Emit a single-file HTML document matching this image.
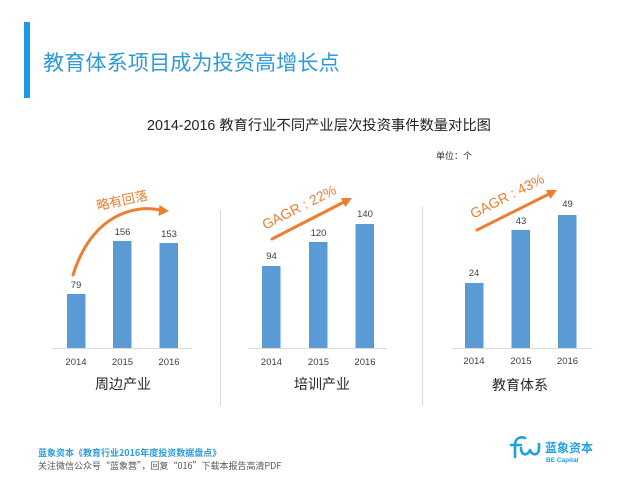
<!DOCTYPE html>
<html>
<head>
<meta charset="utf-8">
<style>
  html,body{margin:0;padding:0;background:#fff;}
  body{width:640px;height:480px;overflow:hidden;}
  svg{display:block;}
  text{font-family:"Liberation Sans","Noto Sans CJK SC",sans-serif;}
  .cjk{font-family:"Noto Sans CJK SC","WenQuanYi Zen Hei",sans-serif;}
</style>
</head>
<body>
<svg width="640" height="480" viewBox="0 0 640 480" xmlns="http://www.w3.org/2000/svg">
  <rect x="0" y="0" width="640" height="480" fill="#ffffff"/>
  <!-- accent bar -->
  <rect x="24" y="22" width="6" height="76" fill="#1f9ae0"/>
  <!-- main title -->
  <text x="43" y="70" class="cjk" font-size="21.2" fill="#2e9ad8">教育体系项目成为投资高增长点</text>

  <!-- chart title -->
  <text x="147" y="130" font-size="14.3" fill="#222"><tspan font-family="Liberation Sans, sans-serif">2014-2016 </tspan><tspan class="cjk" font-family="Noto Sans CJK SC, sans-serif">教育行业不同产业层次投资事件数量对比图</tspan></text>
  <text x="436" y="159" class="cjk" font-size="9" fill="#333">单位：个</text>

  <!-- dividers -->
  <line x1="220.5" y1="210" x2="220.5" y2="405" stroke="#d9d9d9" stroke-width="1"/>
  <line x1="422.5" y1="207" x2="422.5" y2="405" stroke="#d9d9d9" stroke-width="1"/>

  <!-- axes -->
  <line x1="52" y1="348.5" x2="192" y2="348.5" stroke="#d9d9d9" stroke-width="1"/>
  <line x1="248" y1="348.5" x2="387" y2="348.5" stroke="#d9d9d9" stroke-width="1"/>
  <line x1="452" y1="348.5" x2="592" y2="348.5" stroke="#d9d9d9" stroke-width="1"/>

  <!-- bars -->
  <g fill="#5b9bd5">
    <rect x="67" y="294" width="18.5" height="54"/>
    <rect x="113" y="241" width="18.5" height="107"/>
    <rect x="159.5" y="243" width="18.5" height="105"/>
    <rect x="262" y="266" width="18.5" height="82"/>
    <rect x="309" y="242" width="18.5" height="106"/>
    <rect x="355.5" y="224" width="18.5" height="124"/>
    <rect x="465" y="283" width="18.5" height="65"/>
    <rect x="511.5" y="230" width="18.5" height="118"/>
    <rect x="558" y="215" width="18.5" height="133"/>
  </g>

  <!-- value labels -->
  <g font-size="9.5" fill="#404040" text-anchor="middle">
    <text x="76" y="288">79</text>
    <text x="122.5" y="235">156</text>
    <text x="169" y="237">153</text>
    <text x="271.5" y="259">94</text>
    <text x="318.5" y="236">120</text>
    <text x="365" y="217">140</text>
    <text x="474" y="276">24</text>
    <text x="521" y="224">43</text>
    <text x="567.5" y="207">49</text>
  </g>

  <!-- year labels -->
  <g font-size="9.5" fill="#404040" text-anchor="middle">
    <text x="76" y="365">2014</text>
    <text x="122.5" y="365">2015</text>
    <text x="169" y="365">2016</text>
    <text x="271.5" y="365">2014</text>
    <text x="318.5" y="365">2015</text>
    <text x="365" y="365">2016</text>
    <text x="474" y="364">2014</text>
    <text x="521" y="364">2015</text>
    <text x="567.5" y="364">2016</text>
  </g>

  <!-- category labels -->
  <g class="cjk" font-size="14" fill="#262626" text-anchor="middle">
    <text x="123" y="389">周边产业</text>
    <text x="322" y="389">培训产业</text>
    <text x="520" y="390">教育体系</text>
  </g>

  <!-- Panel 1 curved arrow -->
  <path d="M73,275 C84,240 105,214 140,209 C148,208 154,209 160,210" fill="none" stroke="#ed7d31" stroke-width="3" stroke-linecap="round"/>
  <polygon points="169,211 158.5,216 159.5,205" fill="#ed7d31"/>
  <text x="122" y="205" class="cjk" font-size="13" fill="#ed7d31" text-anchor="middle" transform="rotate(-12 122 200)">略有回落</text>

  <!-- Panel 2 arrow -->
  <line x1="272" y1="239" x2="344" y2="202" stroke="#ed7d31" stroke-width="3" stroke-linecap="round"/>
  <polygon points="352,198 345.4,207 340.8,198.1" fill="#ed7d31"/>
  <text x="299" y="212" font-size="14" fill="#ed7d31" text-anchor="middle" transform="rotate(-27 299 207)">GAGR : 22%</text>

  <!-- Panel 3 arrow -->
  <line x1="477" y1="230" x2="549" y2="194" stroke="#ed7d31" stroke-width="3" stroke-linecap="round"/>
  <polygon points="557,190 550.3,199 545.9,190" fill="#ed7d31"/>
  <text x="507" y="201" font-size="14" fill="#ed7d31" text-anchor="middle" transform="rotate(-27 507 196)">GAGR : 43%</text>

  <!-- footer -->
  <text x="38" y="456" class="cjk" font-size="9" fill="#2e9ad8" font-weight="bold">蓝象资本《教育行业2016年度投资数据盘点》</text>
  <text x="38" y="469" class="cjk" font-size="9" fill="#555">关注微信公众号“蓝象营”，回复“016”下载本报告高清PDF</text>

  <!-- logo -->
  <g fill="none" stroke="#1fa0e0" stroke-width="2.6" stroke-linecap="round" stroke-linejoin="round">
    <path d="M525,438 C519,436 515,439 515,445 L515,457"/>
    <path d="M511,445 L521,445"/>
    <path d="M521,448 C521,456 528,456 530,450 C532,456 539,456 539,448 L539,444"/>
  </g>
  <text x="545" y="452" class="cjk" font-size="12" font-weight="bold" fill="#1fa0e0">蓝象资本</text>
  <text x="546" y="462" font-family="Liberation Mono, monospace" font-size="6.5" font-weight="bold" fill="#1fa0e0">BE Capital</text>
</svg>
</body>
</html>
